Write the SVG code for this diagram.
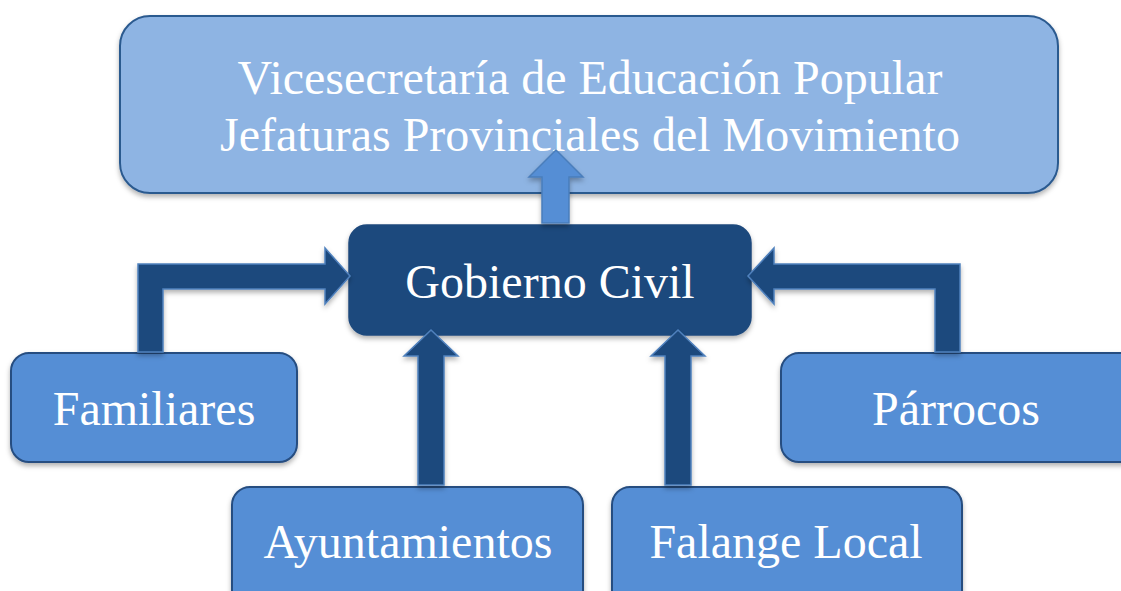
<svg xmlns="http://www.w3.org/2000/svg" width="1121" height="591" viewBox="0 0 1121 591">
<defs>
<filter id="sh" x="-10%" y="-10%" width="120%" height="130%">
<feDropShadow dx="0" dy="3" stdDeviation="2.5" flood-color="#000" flood-opacity="0.3"/>
</filter>
</defs>
<style>
.t{font-family:"Liberation Serif","Times New Roman",serif;font-size:48px;fill:#fff;text-anchor:middle}
.top{fill:#8EB4E3;stroke:#2C5A8F;stroke-width:2}
.mid{fill:#558ED5;stroke:#264D80;stroke-width:2}
.gob{fill:#1F497D;stroke:#1F497D;stroke-width:1.5}
.da{fill:#1F497D;stroke:#4F81BD;stroke-width:1.5}
.la{fill:#558ED5;stroke:#4A7EBB;stroke-width:1.5}
</style>
<rect width="1121" height="591" fill="#fff"/>
<g id="vicesecretaria">
<rect class="top" x="120" y="16" width="938" height="177" rx="30" filter="url(#sh)"/>
<text class="t" x="590" y="94">Vicesecretaría de Educación Popular</text>
<text class="t" x="590" y="151">Jefaturas Provinciales del Movimiento</text>
</g>
<g id="gobierno">
<rect class="gob" x="349" y="225" width="402" height="110" rx="18" filter="url(#sh)"/>
<text class="t" x="550" y="298">Gobierno Civil</text>
</g>
<g id="familiares">
<rect class="mid" x="11" y="353" width="286" height="109" rx="18" filter="url(#sh)"/>
<text class="t" x="154" y="425">Familiares</text>
</g>
<g id="parrocos">
<rect class="mid" x="781" y="353" width="360" height="109" rx="18" filter="url(#sh)"/>
<text class="t" x="956" y="425">Párrocos</text>
</g>
<g id="ayuntamientos">
<rect class="mid" x="232" y="487" width="351" height="130" rx="18" filter="url(#sh)"/>
<text class="t" x="408" y="558">Ayuntamientos</text>
</g>
<g id="falange">
<rect class="mid" x="612" y="487" width="350" height="130" rx="18" filter="url(#sh)"/>
<text class="t" x="786" y="558">Falange Local</text>
</g>
<g id="connectors" filter="url(#sh)">
<path class="la" d="M542,223 L542,177 L529,177 L556,150 L583,177 L569,177 L569,223 Z"/>
<path class="da" d="M138,352 L138,264 L325,264 L325,248 L350,276 L325,304 L325,289 L163,289 L163,352 Z"/>
<path class="da" d="M960,352 L960,264 L774,264 L774,248 L748,276 L774,304 L774,289 L935,289 L935,352 Z"/>
<path class="da" d="M418,485 L418,356 L404,356 L431,330 L458,356 L444,356 L444,485 Z"/>
<path class="da" d="M665,485 L665,356 L651,356 L678,330 L705,356 L691,356 L691,485 Z"/>
</g>
</svg>
